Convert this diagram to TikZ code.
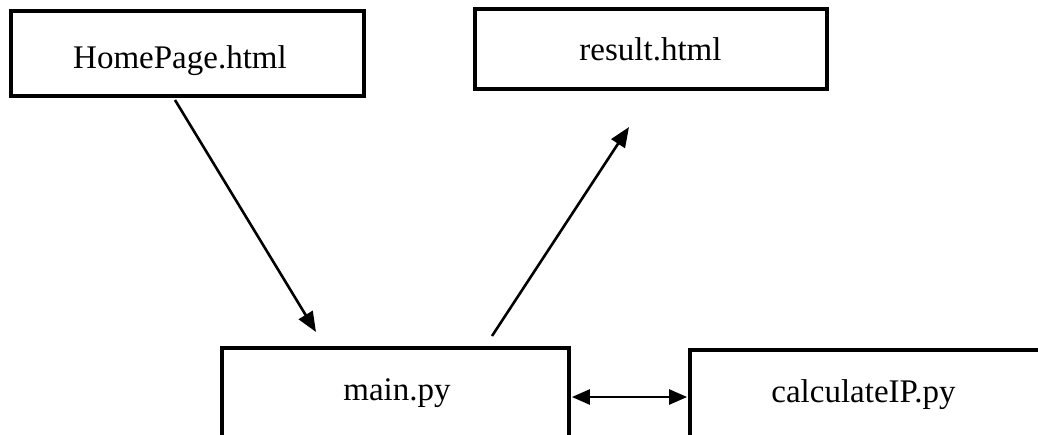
\documentclass[tikz,border=0pt]{standalone}
\usepackage{fontspec}
\setmainfont{Liberation Serif}
\usetikzlibrary{arrows.meta}
\begin{document}
\begin{tikzpicture}[x=1pt,y=-1pt,
  filebox/.style={draw=black,line width=3.8pt,fill=none,inner sep=0pt},
  lbl/.style={anchor=base,inner sep=0pt,font=\fontsize{33}{40}\selectfont},
  conn/.style={draw=black,line width=2.6pt,-{Triangle[length=20pt,width=16pt]}},
  dconn/.style={draw=black,line width=2.6pt,{Triangle[length=18pt,width=15pt]}-{Triangle[length=18pt,width=15pt]}}]
\useasboundingbox (0,0) rectangle (1038,434);
\clip (0,0) rectangle (1038,434);
\fill[white] (0,0) rectangle (1038,434);
% boxes
\node[filebox,minimum width=353pt,minimum height=85pt] (hp) at (187.5,53.5) {};
\node[filebox,minimum width=352pt,minimum height=80pt] (res) at (651,49) {};
\node[filebox,minimum width=347pt,minimum height=130pt] (mainb) at (395.5,413) {};
\node[filebox,minimum width=360pt,minimum height=130pt] (calc) at (870,415) {};
% labels
\node[lbl] (hpt) at (180,68) {HomePage.html};
\node[lbl] (rest) at (650.5,60) {result.html};
\node[lbl] (maint) at (397,400) {main.py};
\node[lbl] (calct) at (863.5,402) {calculateIP.py};
% connector end points
\coordinate (a1) at (175,100);
\coordinate (a2) at (316,332);
\coordinate (b1) at (492,336);
\coordinate (b2) at (629,127);
% connectors
\draw[conn] (a1) -- (a2);
\draw[conn] (b1) -- (b2);
\draw[dconn] ([xshift=1pt]mainb.east |- 0,397) -- ([xshift=-1pt]calc.west |- 0,397);
\end{tikzpicture}
\end{document}
